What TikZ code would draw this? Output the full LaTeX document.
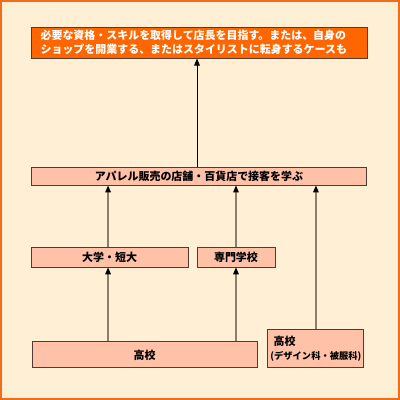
\documentclass[tikz,border=0pt]{standalone}
\usepackage{fontspec}
\usepackage{xcolor}
\usepackage{tikz}
\usetikzlibrary{arrows,arrows.meta,positioning,calc}
\newfontfamily\jpfont{Noto Sans CJK JP}
\definecolor{frame}{RGB}{240,110,30}
\definecolor{paper}{RGB}{255,239,212}
\definecolor{goalfill}{RGB}{255,102,0}
\definecolor{stepfill}{RGB}{255,193,168}
\definecolor{edge}{RGB}{80,60,50}
\definecolor{link}{RGB}{140,125,110}

\begin{document}
\begin{tikzpicture}[x=0.025cm,y=-0.025cm,
  box/.style={draw=edge,line width=0.6pt,fill=stepfill,inner sep=2pt,
              font=\jpfont\bfseries\fontsize{7.8}{10}\selectfont,text=black},
  goalbox/.style={box,fill=goalfill,text=white,align=left},
  arr/.style={-{Triangle[width=4pt,length=5pt,color=black]},line width=0.9pt,draw=link},
  topln/.style={-{Triangle[width=4pt,length=5pt]},line width=0.7pt,draw=black}
]
%% ── Canvas: orange frame round the pale page ────────────────────────────────
\fill[paper] (0,0) rectangle (400,400);
\draw[frame,line width=1.6pt] (1,1) rectangle (399,399);
\useasboundingbox (0,0) rectangle (400,400);

%% ── Row 1: goal ──────────────────────────────────────────────────────────────
\node[goalbox,minimum width=337*0.025cm,minimum height=31*0.025cm,
      text width=318*0.025cm] (goal) at (199.5,42.5)
  {必要な資格・スキルを取得して店長を目指す。または、自身の\\
   ショップを開業する、またはスタイリストに転身するケースも};

%% ── Row 2: shop experience ───────────────────────────────────────────────────
\node[box,minimum width=336*0.025cm,minimum height=18*0.025cm] (shop)
  at (199,176) {アパレル販売の店舗・百貨店で接客を学ぶ};

%% ── Row 3: schools ───────────────────────────────────────────────────────────
\node[box,minimum width=157*0.025cm,minimum height=20*0.025cm] (univ)
  at (109.5,257) {大学・短大};
\node[box,minimum width=78*0.025cm,minimum height=20*0.025cm] (senmon)
  at (236,257) {専門学校};

%% ── Row 4: high schools ──────────────────────────────────────────────────────
\node[box,minimum width=225*0.025cm,minimum height=26*0.025cm] (hs)
  at (144.5,355) {高校};
\node[box,minimum width=97*0.025cm,minimum height=39*0.025cm,align=left,
      text width=90*0.025cm] (hsd) at (315.5,348.5)
  {\hspace*{0.3em}高校\\{\fontsize{6.6}{10}\selectfont (デザイン科・被服科)}};

%% ── Connectors ───────────────────────────────────────────────────────────────
\draw[topln] (shop.north -| 197,0) -- (goal.south -| 197,0);
\draw[arr] (hs.north -| 108,0) -- (univ.south -| 108,0);
\draw[arr] (hs.north -| senmon) -- (senmon.south);
\draw[arr] (univ.north -| 108,0) -- (shop.south -| 108,0);
\draw[arr] (senmon.north) -- (shop.south -| senmon);
\draw[arr] (hsd.north -| 316,0) -- (shop.south -| 316,0);
\end{tikzpicture}
\end{document}
